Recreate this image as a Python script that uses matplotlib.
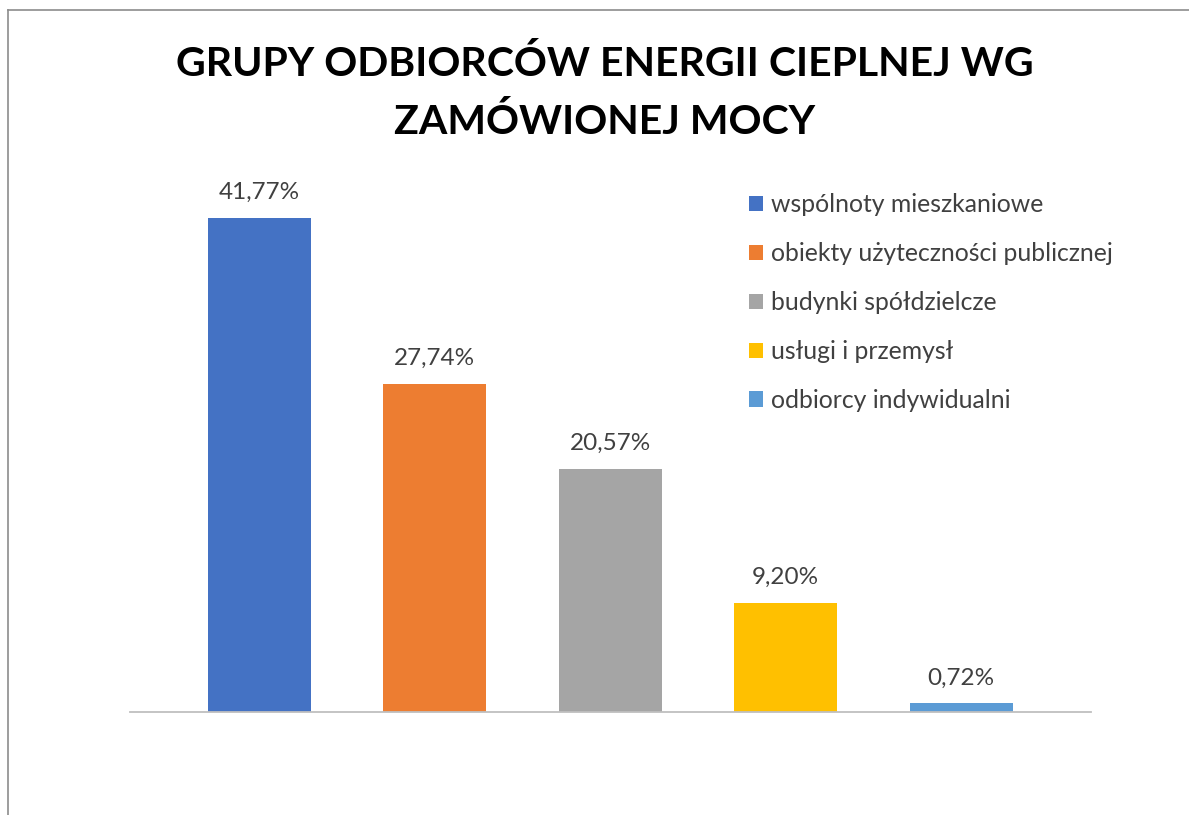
import matplotlib
matplotlib.use("Agg")
import matplotlib.pyplot as plt
from matplotlib.patches import Patch
from matplotlib.lines import Line2D

# data
categories = ["wspólnoty mieszkaniowe", "obiekty użyteczności publicznej",
              "budynki spółdzielcze", "usługi i przemysł", "odbiorcy indywidualni"]
values = [41.77, 27.74, 20.57, 9.20, 0.72]
colors = ["#4472C4", "#ED7D31", "#A5A5A5", "#FFC000", "#5B9BD5"]

TEXT = "#404040"
plt.rcParams["font.family"] = ["Lato", "DejaVu Sans"]

W, H = 1189, 815
fig = plt.figure(figsize=(W / 100, H / 100), dpi=100)

# plot area in pixel coordinates
ax = fig.add_axes([130 / W, 1 - 712 / H, 961 / W, 532 / H])
x = list(range(len(values)))
ax.bar(x, values, width=0.587, color=colors, zorder=2)
ax.set_xlim(-0.738, 4.74)
ax.set_ylim(0, 45)

for xi, v in zip(x, values):
    ax.annotate(f"{v:.2f}%".replace(".", ","), (xi, v), xytext=(0, 13.7),
                textcoords="offset points", ha="center", va="baseline",
                fontsize=17.5, color=TEXT)

for s in ["top", "right", "left"]:
    ax.spines[s].set_visible(False)
ax.spines["bottom"].set_color("#BFBFBF")
ax.spines["bottom"].set_linewidth(1.3)
ax.set_xticks([])
ax.set_yticks([])

fig.text(605 / W, 1 - 76 / H, "GRUPY ODBIORCÓW ENERGII CIEPLNEJ WG",
         ha="center", va="baseline", fontsize=29.5, fontweight="bold", color="black")
fig.text(605 / W, 1 - 134 / H, "ZAMÓWIONEJ MOCY",
         ha="center", va="baseline", fontsize=29.5, fontweight="bold", color="black")

handles = [Patch(facecolor=c, edgecolor="none") for c in colors]
leg = fig.legend(handles, categories, loc="upper left",
                 bbox_to_anchor=(749 / W, 1 - 193 / H), frameon=False,
                 fontsize=17.8, handlelength=0.57, handleheight=0.57,
                 handletextpad=0.3, labelspacing=1.05, borderaxespad=0,
                 borderpad=0)
for t in leg.get_texts():
    t.set_color(TEXT)

# chart border (top and left edges visible)
fig.add_artist(Line2D([8 / W, 8 / W], [0, 1 - 10 / H], color="#8C8C8C", lw=1.2))
fig.add_artist(Line2D([8 / W, 1], [1 - 10 / H, 1 - 10 / H], color="#8C8C8C", lw=1.2))

fig.savefig("out.png", dpi=100)
